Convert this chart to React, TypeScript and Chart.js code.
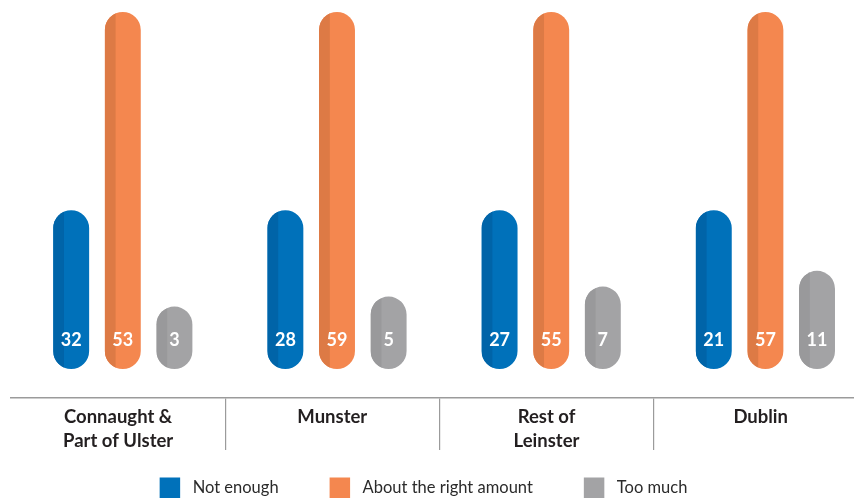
import React, { useEffect, useRef } from "react";
import { Chart, registerables } from "chart.js";

Chart.register(...registerables);

// Categories (x axis)
const categories: (string | string[])[] = [
  ["Connaught &", "Part of Ulster"],
  "Munster",
  ["Rest of", "Leinster"],
  "Dublin",
];

// Series names
const seriesNames = ["Not enough", "About the right amount", "Too much"];

// Values printed on the bars (%)
const notEnough = [32, 28, 27, 21];
const aboutRight = [53, 59, 55, 57];
const tooMuch = [3, 5, 7, 11];

// Bar lengths as drawn in the source infographic (stylised, 0-100 scale)
const notEnoughBar = [44.5, 44.5, 44.5, 44.5];
const aboutRightBar = [100, 100, 100, 100];
const tooMuchBar = [17.5, 20.3, 23.1, 27.5];

const colors = ["#0071ba", "#f4874f", "#a3a3a5"];
const stripeColors = ["#0064a8", "#dd7a45", "#99999b"];
const valueLabels = [notEnough, aboutRight, tooMuch];

const FONT = "Lato, 'Open Sans', sans-serif";

const decorPlugin = {
  id: "decor",
  afterLayout(chart: any) {
    // bars sit slightly right of the section centres in the source
    const s = chart.scales.x;
    if (s) {
      s.left += 4.7;
      s.right += 4.7;
      s.configure();
    }
  },
  afterDatasetsDraw(chart: any) {
    const ctx = chart.ctx as CanvasRenderingContext2D;
    chart.data.datasets.forEach((_ds: any, di: number) => {
      const meta = chart.getDatasetMeta(di);
      meta.data.forEach((bar: any, i: number) => {
        const { x, y, base, width } = bar.getProps(["x", "y", "base", "width"], true);
        const left = x - width / 2;
        const h = base - y;
        ctx.save();
        ctx.beginPath();
        (ctx as any).roundRect(left, y, width, h, width / 2);
        ctx.clip();
        ctx.fillStyle = stripeColors[di];
        ctx.fillRect(left, y, width * 0.3, h);
        ctx.restore();

        ctx.save();
        ctx.fillStyle = "#ffffff";
        ctx.font = `bold 18px ${FONT}`;
        ctx.textAlign = "center";
        ctx.textBaseline = "alphabetic";
        ctx.fillText(String(valueLabels[di][i]), x, base - 23);
        ctx.restore();
      });
    });
  },
  afterDraw(chart: any) {
    const ctx = chart.ctx as CanvasRenderingContext2D;
    ctx.save();
    ctx.font = `16.5px ${FONT}`;
    const box = 20.5;
    const gapText = 12.5;
    const gapItem = 51;
    const widths = seriesNames.map((n) => ctx.measureText(n).width);
    const total =
      widths.reduce((a, w) => a + box + gapText + w, 0) + gapItem * (seriesNames.length - 1);
    let xPos = 423.5 - total / 2;
    seriesNames.forEach((n, i) => {
      ctx.fillStyle = colors[i];
      ctx.fillRect(xPos, 477.5, box, box);
      ctx.fillStyle = "#2b2b2b";
      ctx.textAlign = "left";
      ctx.textBaseline = "alphabetic";
      ctx.fillText(n, xPos + box + gapText, 492.5);
      xPos += box + gapText + widths[i] + gapItem;
    });
    ctx.restore();
  },
};

export default function App() {
  const ref = useRef<HTMLCanvasElement | null>(null);

  useEffect(() => {
    if (!ref.current) return;
    const chart = new Chart(ref.current, {
      type: "bar",
      data: {
        labels: categories as any,
        datasets: [
          { label: seriesNames[0], data: notEnoughBar, backgroundColor: colors[0] },
          { label: seriesNames[1], data: aboutRightBar, backgroundColor: colors[1] },
          { label: seriesNames[2], data: tooMuchBar, backgroundColor: colors[2] },
        ],
      },
      options: {
        responsive: false,
        animation: false,
        devicePixelRatio: 1,
        layout: { padding: { top: 12, left: 11, right: 3.2, bottom: 0 } },
        datasets: {
          bar: {
            categoryPercentage: 0.723,
            barPercentage: 0.696,
            borderRadius: 18,
            borderSkipped: false,
            borderWidth: 0,
          },
        },
        plugins: {
          legend: { display: false },
          tooltip: { enabled: false },
        },
        scales: {
          x: {
            display: false,
            afterFit: (scale: any) => {
              scale.height = 0;
            },
          },
          x2: {
            type: "category",
            position: "bottom",
            labels: categories as any,
            min: 0,
            max: categories.length - 1,
            grid: {
              offset: true,
              drawOnChartArea: false,
              drawTicks: true,
              tickLength: 52,
              lineWidth: 1.2,
              color: (c: any) =>
                c.type === "tick" && c.index > 0 ? "#9b9b9b" : "rgba(0,0,0,0)",
            },
            border: { display: true, color: "#9b9b9b", width: 1.5 },
            ticks: {
              padding: -45,
              color: "#231f20",
              font: { family: FONT, size: 18.5, weight: "bold", lineHeight: 1.31 },
              maxRotation: 0,
              autoSkip: false,
            },
            afterFit: (scale: any) => {
              scale.height = 102;
            },
          },
          y: {
            display: false,
            min: -8.12,
            max: 100,
          },
        },
      },
      plugins: [decorPlugin],
    } as any);
    return () => chart.destroy();
  }, []);

  return (
    <div
      style={{
        position: "absolute",
        left: 0,
        top: 0,
        width: 854,
        height: 500,
        overflow: "hidden",
        background: "#ffffff",
      }}
    >
      <canvas ref={ref} width={871} height={500} style={{ display: "block" }} />
    </div>
  );
}
